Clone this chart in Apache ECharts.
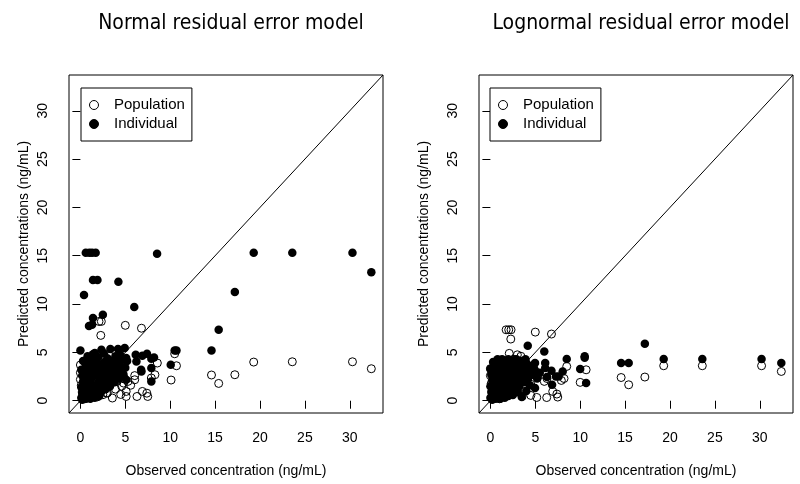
<!DOCTYPE html>
<html>
<head>
<meta charset="utf-8">
<script src="https://cdn.jsdelivr.net/npm/echarts@6/dist/echarts.min.js"></script>
<style>
html,body{margin:0;padding:0;background:#fff;}
#chart{width:800px;height:484px;}
</style>
</head>
<body>
<div id="chart"></div>
<script>
// ---- data ----
const panelTitles = ['Normal residual error model', 'Lognormal residual error model'];
const seriesNames = ['Population', 'Individual'];
const xAxisTitle = 'Observed concentration (ng/mL)';
const yAxisTitle = 'Predicted concentrations (ng/mL)';
const tickValues = [0, 5, 10, 15, 20, 25, 30];
const tickLabels = ['0', '5', '10', '15', '20', '25', '30'];
const axisLimits = [-1.27, 33.7];

// Normal model – population predictions (open circles)
const normalPopulation = [
  [0.0,3.7],[0.0,2.9],[0.0,2.2],[0.1,1.6],[0.2,0.9],[0.3,0.4],[0.5,1.3],[0.7,2.0],[0.9,2.6],[1.0,3.4],
  [1.2,0.6],[1.4,1.4],[1.6,2.2],[1.8,2.9],[2.0,3.6],[2.2,1.0],[2.4,1.8],[2.6,2.5],[2.8,3.2],[3.0,0.8],
  [3.2,1.6],[3.4,2.4],[3.7,3.0],[3.9,1.2],[4.1,2.0],[4.3,2.6],[4.6,1.5],[4.9,2.3],[5.3,2.0],[5.6,1.6],
  [6.05,2.17],[6.05,2.6],[4.6,2.86],[4.8,1.83],[1.5,3.0],[2.5,4.2],[3.3,4.6],[4.0,3.9],[0.5,0.2],[1.1,0.3],
  [1.9,0.4],[2.5,0.62],[2.9,0.79],[3.56,0.28],[4.49,0.65],[5.1,0.96],[5.1,0.44],[6.3,0.44],[6.9,0.96],[7.4,0.78],
  [7.5,0.44],[7.9,2.35],[8.3,2.69],[8.57,3.9],[10.5,4.86],[10.7,3.62],[10.1,2.14],[14.6,2.66],[15.4,1.79],[17.2,2.69],
  [19.3,4.0],[23.6,4.03],[30.3,4.03],[32.4,3.31],[5.0,7.8],[6.8,7.5],[2.27,6.76],[2.07,8.2],[2.33,8.2],[0.3,3.1],
  [1.3,1.9],[2.1,2.7],[3.0,3.5],[0.8,0.7],[1.7,1.1],[2.7,1.5],[3.5,1.9],[4.4,3.3],[0.4,2.5],[1.1,4.1]
];
// Normal model – individual predictions (filled circles)
const normalIndividual = [
  [0.6,15.3],[1.0,15.3],[1.3,15.3],[1.7,15.3],[8.54,15.2],[19.3,15.3],[23.6,15.3],[30.3,15.3],[32.4,13.3],[17.2,11.24],
  [15.4,7.34],[14.6,5.2],[1.4,12.5],[1.9,12.5],[4.23,12.3],[0.4,10.93],[6.0,9.69],[1.4,8.55],[2.5,8.9],[0.96,7.72],
  [1.3,7.86],[0.0,5.2],[10.5,5.2],[10.7,5.2],[10.06,3.72],[6.16,4.76],[6.24,4.07],[6.9,4.65],[7.42,4.86],[8.2,4.48],
  [6.8,3.03],[7.9,3.38],[7.9,2.0],[5.1,2.17],[5.1,4.41],[4.93,5.45],[4.19,5.35],[3.34,5.35],[2.34,5.28],[1.6,4.93],
  [6.76,3.2],[7.9,4.34],
  [0.1,0.3],[0.2,0.8],[0.1,1.4],[0.3,2.0],[0.2,2.6],[0.1,3.2],[0.4,0.5],[0.5,1.1],[0.6,1.7],[0.5,2.3],
  [0.7,3.0],[0.6,3.6],[0.8,0.3],[0.9,0.9],[1.0,1.5],[1.1,2.1],[0.9,2.7],[1.0,3.3],[1.2,3.9],[1.3,0.4],
  [1.4,1.0],[1.5,1.6],[1.3,2.4],[1.6,2.9],[1.5,3.5],[1.7,4.2],[1.8,0.6],[1.9,1.3],[2.0,1.9],[2.1,2.5],
  [1.9,3.1],[2.2,3.7],[2.0,4.5],[2.3,0.9],[2.4,1.6],[2.5,2.2],[2.6,2.8],[2.4,3.4],[2.7,4.0],[2.8,1.2],
  [2.9,1.9],[3.0,2.6],[3.1,3.2],[3.2,3.8],[3.0,4.4],[3.3,1.5],[3.4,2.2],[3.5,2.9],[3.6,3.5],[3.4,4.1],
  [3.8,1.9],[3.9,2.6],[4.0,3.3],[4.1,4.0],[4.3,2.3],[4.4,3.0],[4.5,3.6],[4.6,4.3],[4.8,2.7],[5.0,3.4],
  [5.2,4.1],[0.3,4.1],[0.8,4.6],[1.4,4.8],[2.6,4.9],[0.2,0.1],[0.6,0.2],[1.1,0.2],[1.6,0.3],[2.1,0.5],
  [0.4,1.6],[0.8,2.3],[1.2,2.8],[1.7,3.4],[2.3,2.9],[2.8,3.6],[3.6,2.3],[3.9,4.6],[4.4,4.8],[1.0,4.2]
];
// Lognormal model – population predictions (open circles)
const lognormalPopulation = [
  [1.75,7.34],[2.04,7.34],[2.3,7.34],[2.27,6.38],[5.0,7.1],[6.8,6.9],[8.5,3.55],[8.2,2.3],[7.9,2.1],[10.66,3.2],
  [10.0,1.9],[14.56,2.4],[15.4,1.65],[17.2,2.45],[19.3,3.62],[23.6,3.62],[30.2,3.62],[32.4,3.03],[6.27,0.33],[7.5,0.38],
  [7.4,0.69],[6.94,0.96],[5.16,0.34],[4.5,0.55],[3.53,0.45],[0.0,3.31],[0.0,2.6],[6.0,2.0],[6.3,2.3],[2.1,4.9],
  [3.0,4.75],[3.4,4.6],[5.3,2.6],[0.1,1.8],[0.3,0.9],[0.6,2.4],[0.9,1.3],[1.2,3.0],[1.5,0.5],[1.8,2.0],
  [2.1,3.6],[2.4,1.1],[2.7,2.7],[3.0,1.6],[3.3,3.3],[3.6,2.2],[3.9,1.0],[4.2,2.9],[4.5,1.7],[4.8,3.5],
  [0.4,0.3],[1.0,0.2],[1.4,4.0],[2.6,4.3],[0.7,3.5]
];
// Lognormal model – individual predictions (filled circles)
const lognormalIndividual = [
  [0.0,0.3],[0.1,0.9],[0.0,1.5],[0.2,2.1],[0.1,2.7],[0.0,3.3],[0.3,0.5],[0.4,1.2],[0.5,1.8],[0.4,2.4],
  [0.6,3.0],[0.5,3.6],[0.7,0.3],[0.8,0.9],[0.9,1.5],[1.0,2.1],[0.8,2.7],[1.0,3.3],[1.1,3.9],[1.2,0.4],
  [1.3,1.0],[1.4,1.6],[1.2,2.3],[1.5,2.9],[1.4,3.5],[1.6,4.1],[1.7,0.6],[1.8,1.3],[1.9,1.9],[2.0,2.5],
  [1.8,3.1],[2.1,3.7],[2.0,4.3],[2.2,0.9],[2.3,1.6],[2.4,2.2],[2.5,2.8],[2.3,3.4],[2.6,4.0],[2.7,1.2],
  [2.8,1.9],[2.9,2.6],[3.0,3.2],[3.1,3.8],[2.9,4.3],[3.2,1.5],[3.3,2.2],[3.4,2.9],[3.5,3.5],[3.3,4.1],
  [3.7,1.9],[3.8,2.6],[3.9,3.3],[4.0,3.9],[4.2,2.3],[4.3,3.0],[4.5,3.6],[4.7,2.7],[0.3,4.0],[0.8,4.3],
  [1.3,4.3],[2.4,4.2],[0.2,0.1],[0.6,0.2],[1.1,0.2],[1.6,0.3],[2.0,0.5],[2.5,0.6],[3.0,0.9],[0.4,1.6],
  [0.8,2.3],[1.2,2.8],[1.7,3.4],[2.3,2.9],[2.8,3.6],[3.6,2.3],[3.49,0.38],[4.97,3.9],[4.97,3.14],[4.97,1.31],
  [4.16,5.69],[6.0,5.1],[6.1,3.9],[6.1,3.38],[6.3,2.45],[6.8,3.1],[6.87,1.66],[7.3,2.5],[7.6,2.5],[8.05,3.03],
  [8.5,4.31],[10.0,3.28],[10.5,4.59],[10.5,4.45],[10.66,1.83],[14.56,3.9],[15.4,3.9],[17.2,5.9],[19.3,4.31],[23.6,4.31],
  [30.2,4.31],[32.4,3.9],[4.0,1.0],[4.4,1.6],[5.2,2.3],[5.5,2.9],[3.9,4.3]
];

// ---- chart ----
const FONT = "'Liberation Sans', Arial, Helvetica, sans-serif";
const TITLE_FONT = "'Liberation Sans Narrow', 'DejaVu Sans Condensed', 'Liberation Sans', sans-serif";
const grids = [
  {left: 69, top: 75, width: 314, height: 338},
  {left: 479, top: 75, width: 314, height: 338}
];
const yNameGaps = [38, 48];

const chart = echarts.init(document.getElementById('chart'), null, {renderer: 'canvas'});

function makeX(i) {
  return {
    gridIndex: i, type: 'value', min: axisLimits[0], max: axisLimits[1],
    axisLine: {show: false}, splitLine: {show: false},
    axisTick: {show: true, length: 8, customValues: tickValues, lineStyle: {color: '#000', width: 1}},
    axisLabel: {customValues: tickValues, margin: 18, fontSize: 14, color: '#000', fontFamily: FONT,
      formatter: v => tickLabels[tickValues.indexOf(v)]},
    name: xAxisTitle, nameLocation: 'middle', nameGap: 51,
    nameTextStyle: {fontSize: 14, color: '#000', fontFamily: FONT}
  };
}
function makeY(i) {
  return {
    gridIndex: i, type: 'value', min: axisLimits[0], max: axisLimits[1],
    axisLine: {show: false}, splitLine: {show: false},
    axisTick: {show: true, length: 8, customValues: tickValues, lineStyle: {color: '#000', width: 1}},
    axisLabel: {customValues: tickValues, margin: 19, rotate: 90, fontSize: 14, color: '#000', fontFamily: FONT,
      formatter: v => tickLabels[tickValues.indexOf(v)]},
    name: yAxisTitle, nameLocation: 'middle', nameGap: yNameGaps[i], nameRotate: 90,
    nameTextStyle: {fontSize: 14, color: '#000', fontFamily: FONT}
  };
}

const popStyle = {color: 'rgba(0,0,0,0)', borderColor: '#000', borderWidth: 1, opacity: 1};
const indStyle = {color: '#000', borderColor: '#000', borderWidth: 0, opacity: 1};
const panels = [[normalPopulation, normalIndividual], [lognormalPopulation, lognormalIndividual]];

const series = [];
panels.forEach((p, i) => {
  series.push({
    name: 'identity', type: 'line', xAxisIndex: i, yAxisIndex: i,
    data: [[axisLimits[0], axisLimits[0]], [axisLimits[1], axisLimits[1]]],
    symbol: 'none', silent: true, lineStyle: {color: '#000', width: 1}, z: 1
  });
  series.push({
    name: seriesNames[0], type: 'scatter', xAxisIndex: i, yAxisIndex: i, data: p[0],
    symbol: 'circle', symbolSize: 8, itemStyle: popStyle, z: 2
  });
  series.push({
    name: seriesNames[1], type: 'scatter', xAxisIndex: i, yAxisIndex: i, data: p[1],
    symbol: 'circle', symbolSize: 8.5, itemStyle: indStyle, z: 3
  });
});

const legendLefts = [81, 490];

chart.setOption({
  animation: false,
  backgroundColor: '#fff',
  title: panelTitles.map((t, i) => ({
    text: t, left: grids[i].left + grids[i].width / 2, top: 8, textAlign: 'center',
    textStyle: {fontSize: 21, fontWeight: 'normal', color: '#000', fontFamily: TITLE_FONT}
  })),
  grid: grids.map(g => Object.assign({show: true, borderColor: '#000', borderWidth: 1, backgroundColor: 'transparent'}, g)),
  xAxis: [makeX(0), makeX(1)],
  yAxis: [makeY(0), makeY(1)],
  legend: legendLefts.map(l => ({
    left: l, top: 88, orient: 'vertical', data: seriesNames, icon: 'circle',
    backgroundColor: '#fff', borderColor: '#000', borderWidth: 1, borderRadius: 0,
    padding: [9, 7, 9, 8], itemWidth: 12, itemHeight: 9, itemGap: 3,
    selectedMode: false,
    itemStyle: {borderWidth: 1},
    textStyle: {fontSize: 15, color: '#000', fontFamily: FONT, lineHeight: 16, padding: [0, 0, 0, 9]}
  })),
  series: series
});
</script>
</body>
</html>
